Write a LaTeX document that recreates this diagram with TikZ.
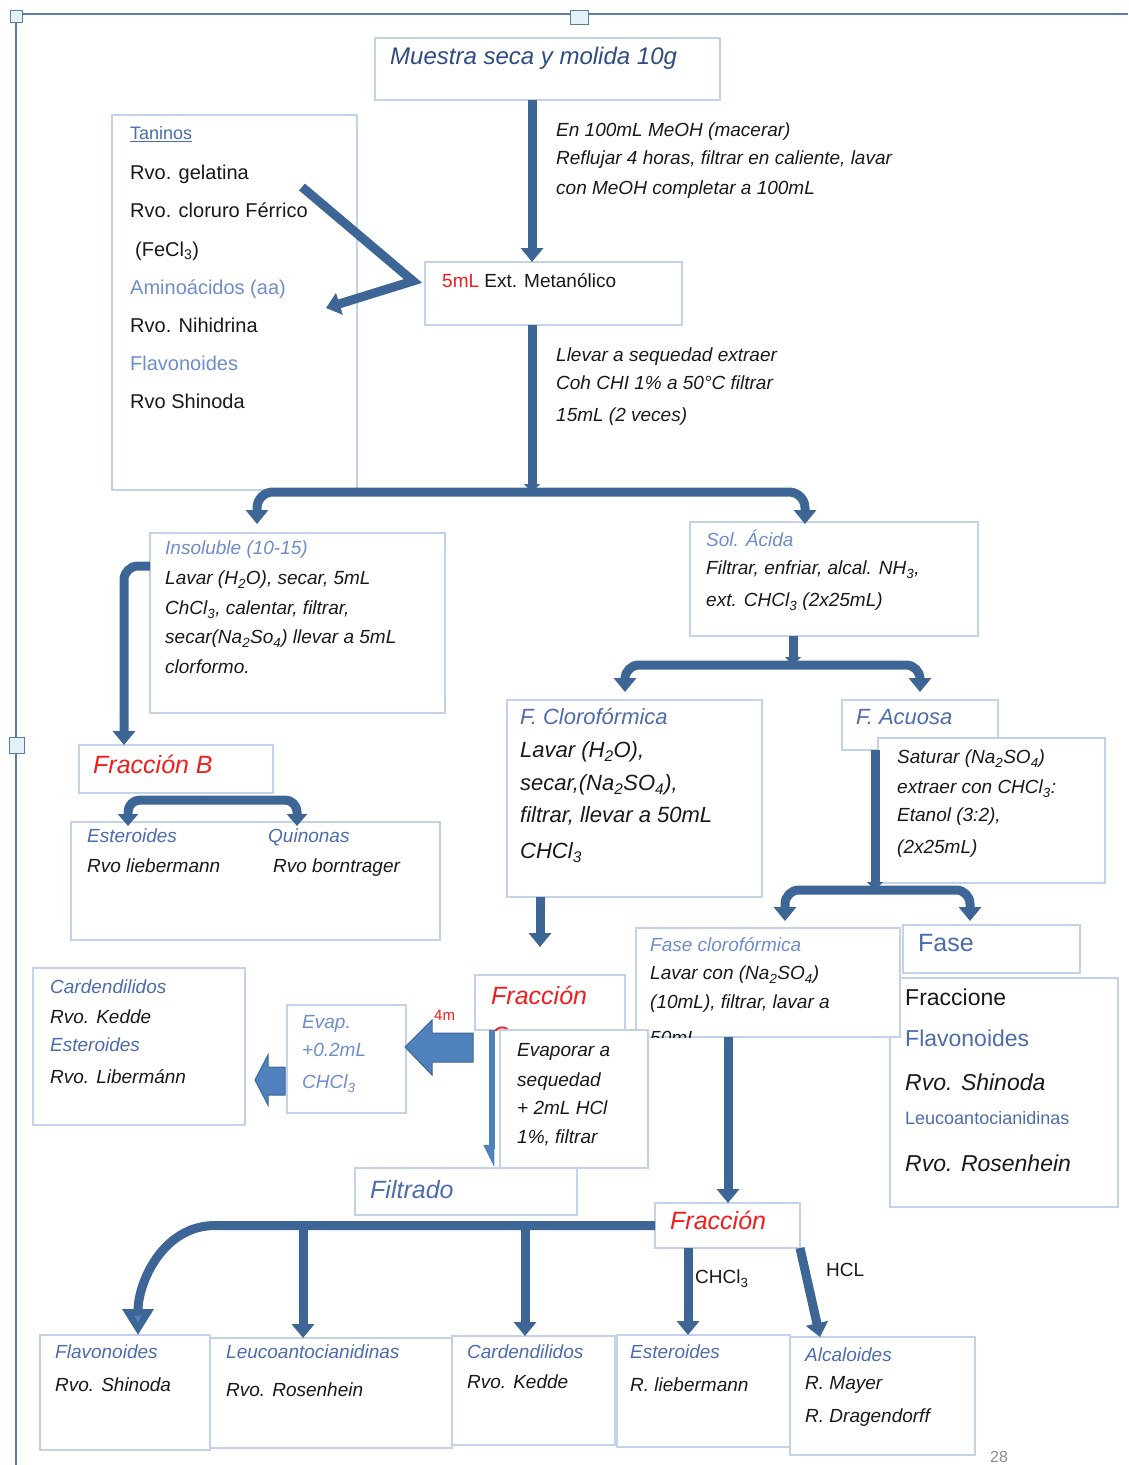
\documentclass[tikz,border=0pt]{standalone}
\usepackage{fontspec}
\setmainfont{Liberation Sans}
\usetikzlibrary{arrows.meta}
\newcommand\fs[1]{\fontsize{#1}{#1}\selectfont}
\newcommand\sub[1]{\textsubscript{#1}}
\definecolor{arrc}{HTML}{3D6596}
\definecolor{blkc}{HTML}{4F81BD}
\definecolor{boxc}{HTML}{C2D2E8}
\definecolor{bluet}{HTML}{4D6CAC}
\definecolor{lbluet}{HTML}{6F8CCB}
\definecolor{titlec}{HTML}{2E4C82}
\definecolor{redt}{HTML}{F01E1E}
\definecolor{framec}{HTML}{5A7CA8}
\definecolor{handf}{HTML}{E2F1F6}
\newcommand\bx[5]{\node[box, minimum width={#4-#2}, minimum height={#5-#3}] (#1) at (#2,#3) {};}
\begin{document}
\begin{tikzpicture}[x=1pt,y=-1pt,
  box/.style={draw=boxc, line width=1.4pt, fill=white, inner sep=0pt, outer sep=0pt, anchor=north west},
  arr/.style={draw=arrc, line width=9pt, -{Triangle[width=22pt,length=14pt]}},
  tu/.style={anchor=west, inner sep=0pt, text height={0.72*#1}, text depth=0pt, font=\fs{#1}, text=black!90},
  ti/.style={anchor=west, inner sep=0pt, text height={0.72*#1}, text depth=0pt, font=\fs{#1}\itshape, text=black!90},
  junc/.style={arr, -{Triangle[width=16pt,length=8pt]}},
]
\useasboundingbox (0,0) rectangle (1128,1465);
% page frame
\draw[framec, line width=2.5pt] (12,14) -- (1128,14);
\draw[framec, line width=1.5pt] (16,14) -- (16,1465);
\draw[framec, fill=handf, line width=.8pt] (570,10) rectangle (588,24);
\draw[framec, fill=handf, line width=.8pt] (9,737) rectangle (24,753);
\draw[framec, fill=handf, line width=.8pt] (10,10) rectangle (22,22);

% coordinates
\coordinate (c532) at (532,0);
\coordinate (c124) at (124,0);
\coordinate (c793) at (793,0);
\coordinate (c875) at (875,0);
\coordinate (c540) at (540,0);
\coordinate (c492) at (492,0);
\coordinate (c728) at (728,0);
\coordinate (c138) at (138,0);
\coordinate (c215) at (215,0);
\coordinate (c303) at (303,0);
\coordinate (c525) at (525,0);
\coordinate (c688) at (688,0);
\coordinate (c820) at (820,0);

% ---- top
\bx{tit}{375}{38}{720}{100}
\node[ti=24, text=titlec] (tt) at (390,56) {Muestra seca y molida 10g};
\node[ti=19] (l1a) at (556,130) {En 100mL MeOH (macerar)};
\node[ti=19] (l1b) at (556,158) {Reflujar 4 horas, filtrar en caliente, lavar};
\node[ti=19] (l1c) at (556,188) {con MeOH completar a 100mL};

\bx{tan}{112}{115}{357}{490}
\node[tu=18, text=bluet] (tn1) at (130,133) {\underline{Taninos}};
\node[tu=20] (tn2) at (130,172) {Rvo. gelatina};
\node[tu=20] (tn3) at (130,210) {Rvo. cloruro Férrico};
\node[tu=20] (tn4) at (135,249) {(FeCl\sub{3})};
\node[tu=20, text=lbluet] (tn5) at (130,287) {Aminoácidos (aa)};
\node[tu=20] (tn6) at (130,325) {Rvo. Nihidrina};
\node[tu=20, text=lbluet] (tn7) at (130,363) {Flavonoides};
\node[tu=20] (tn8) at (130,401) {Rvo Shinoda};

\bx{ext}{425}{262}{682}{325}
\node[tu=19] (et) at (442,281) {\textcolor{redt}{5mL} Ext. Metanólico};
\node[ti=19] (l2a) at (556,355) {Llevar a sequedad extraer};
\node[ti=19] (l2b) at (556,383) {Coh CHI 1\% a 50°C filtrar};
\node[ti=19] (l2c) at (556,415) {15mL (2 veces)};

% ---- left middle
\bx{ins}{150}{533}{445}{713}
\node[ti=19, text=lbluet] (in1) at (165,548) {Insoluble (10-15)};
\node[ti=19] (in2) at (165,578) {Lavar (H\sub{2}O), secar, 5mL};
\node[ti=19] (in3) at (165,608) {ChCl\sub{3}, calentar, filtrar,};
\node[ti=19] (in4) at (165,637) {secar(Na\sub{2}So\sub{4}) llevar a 5mL};
\node[ti=19] (in5) at (165,667) {clorformo.};

\bx{frb}{79}{745}{273}{793}
\node[ti=25, text=redt] (fb) at (93,764) {Fracción B};

\bx{eq}{71}{822}{440}{940}
\node[ti=19, text=bluet] (eq1) at (87,836) {Esteroides};
\node[ti=19] (eq2) at (87,866) {Rvo liebermann};
\node[ti=19, text=bluet] (eq3) at (268,836) {Quinonas};
\node[ti=19] (eq4) at (273,866) {Rvo borntrager};

% ---- right middle
\bx{sol}{690}{522}{978}{636}
\node[ti=19, text=lbluet] (so1) at (706,540) {Sol. Ácida};
\node[ti=19] (so2) at (706,568) {Filtrar, enfriar, alcal. NH\sub{3},};
\node[ti=19] (so3) at (706,600) {ext. CHCl\sub{3} (2x25mL)};

\bx{fcl}{507}{700}{762}{897}
\node[ti=22, text=bluet] (fc1) at (520,717) {F. Clorofórmica};
\node[ti=22] (fc2) at (520,750) {Lavar (H\sub{2}O),};
\node[ti=22] (fc3) at (520,783) {secar,(Na\sub{2}SO\sub{4}),};
\node[ti=22] (fc4) at (520,815) {filtrar, llevar a 50mL};
\node[ti=22] (fc5) at (520,851) {CHCl\sub{3}};

\bx{fac}{842}{700}{998}{750}
\node[ti=22, text=bluet] (fa) at (856,717) {F. Acuosa};
\bx{sat}{878}{738}{1105}{883}
\node[ti=19] (sa1) at (897,757) {Saturar (Na\sub{2}SO\sub{4})};
\node[ti=19] (sa2) at (897,787) {extraer con CHCl\sub{3}:};
\node[ti=19] (sa3) at (897,815) {Etanol (3:2),};
\node[ti=19] (sa4) at (897,847) {(2x25mL)};

\bx{fra}{890}{978}{1118}{1207}
\node[tu=23] (fr1) at (905,997) {Fraccione};
\node[tu=23, text=bluet] (fr2) at (905,1038) {Flavonoides};
\node[ti=23] (fr3) at (905,1082) {Rvo. Shinoda};
\node[tu=18, text=bluet] (fr4) at (905,1118) {Leucoantocianidinas};
\node[ti=23] (fr5) at (905,1163) {Rvo. Rosenhein};

\bx{fas}{903}{925}{1080}{973}
\node[tu=25, text=bluet] (fs) at (918,942) {Fase};

\bx{fcf}{636}{928}{900}{1037}
\node[ti=19, text=lbluet] (ff1) at (650,945) {Fase clorofórmica};
\node[ti=19] (ff2) at (650,973) {Lavar con (Na\sub{2}SO\sub{4})};
\node[ti=19] (ff3) at (650,1002) {(10mL), filtrar, lavar a};
\begin{scope}
\clip (fcf.north west) rectangle (fcf.south east);
\node[ti=19] (ff4) at (650,1038) {50mL};
\end{scope}

% ---- lower middle
\bx{frc}{475}{975}{625}{1030}
\node[ti=25, text=redt] (fcA) at (491,995) {Fracción};
\begin{scope}
\clip (frc.north west) rectangle (frc.south east);
\node[ti=25, text=redt] (fcB) at (491,1035) {C};
\end{scope}
\node[tu=15, text=redt] (fm) at (434,1015) {4m};

\bx{eva}{500}{1030}{648}{1168}
\node[ti=19] (ev1) at (517,1050) {Evaporar a};
\node[ti=19] (ev2) at (517,1080) {sequedad};
\node[ti=19] (ev3) at (517,1108) {+ 2mL HCl};
\node[ti=19] (ev4) at (517,1137) {1\%, filtrar};

\bx{evp}{287}{1005}{406}{1113}
\node[ti=19, text=lbluet] (ep1) at (302,1022) {Evap.};
\node[ti=19, text=lbluet] (ep2) at (302,1050) {+0.2mL};
\node[ti=19, text=lbluet] (ep3) at (302,1082) {CHCl\sub{3}};

\bx{car}{33}{968}{245}{1125}
\node[ti=19, text=bluet] (ca1) at (50,987) {Cardendilidos};
\node[ti=19] (ca2) at (50,1017) {Rvo. Kedde};
\node[ti=19, text=bluet] (ca3) at (50,1045) {Esteroides};
\node[ti=19] (ca4) at (50,1077) {Rvo. Libermánn};

\bx{fil}{355}{1168}{577}{1215}
\node[ti=25, text=bluet] (fi) at (370,1189) {Filtrado};

\bx{frl}{655}{1203}{800}{1248}
\node[ti=25, text=redt] (fl) at (670,1220) {Fracción};

% ---- bottom row
\bx{b1}{40}{1335}{210}{1450}
\node[ti=19, text=bluet] (b1a) at (55,1352) {Flavonoides};
\node[ti=19] (b1b) at (55,1385) {Rvo. Shinoda};
\bx{b2}{210}{1338}{452}{1448}
\node[ti=19, text=bluet] (b2a) at (226,1352) {Leucoantocianidinas};
\node[ti=19] (b2b) at (226,1390) {Rvo. Rosenhein};
\bx{b3}{452}{1336}{615}{1445}
\node[ti=19, text=bluet] (b3a) at (467,1352) {Cardendilidos};
\node[ti=19] (b3b) at (467,1382) {Rvo. Kedde};
\bx{b4}{617}{1335}{790}{1447}
\node[ti=19, text=bluet] (b4a) at (630,1352) {Esteroides};
\node[ti=19] (b4b) at (630,1385) {R. liebermann};
\bx{b5}{790}{1337}{975}{1455}
\node[ti=19, text=bluet] (b5a) at (805,1355) {Alcaloides};
\node[ti=19] (b5b) at (805,1383) {R. Mayer};
\node[ti=19] (b5c) at (805,1416) {R. Dragendorff};

\node[tu=19] (lch) at (695,1277) {CHCl\sub{3}};
\node[tu=19] (lhc) at (826,1270) {HCL};
\node[tu=16, text=black!45] (pg) at (990,1457) {28};

% ---- connectors
\coordinate (v1) at (302,187);
\coordinate (v2) at (413,281);
\coordinate (v3) at (326,308);
\coordinate (j1) at (532,492);
\coordinate (e1) at (257,524);
\coordinate (e2) at (805,524);
\coordinate (s1) at (150,566);
\coordinate (j2) at (205,800);
\coordinate (e3) at (128,826);
\coordinate (e4) at (297,826);
\coordinate (j3) at (793,665);
\coordinate (e5) at (625,692);
\coordinate (e6) at (920,692);
\coordinate (j4) at (875,890);
\coordinate (e7) at (785,921);
\coordinate (e8) at (970,921);
\coordinate (e9) at (540,947);

\draw[arr] (tit.south -| c532) -- (ext.north -| c532);
\draw[arr] (v1) -- (v2) -- (v3);
\draw[junc] (ext.south -| c532) -- (j1);
\draw[arr, rounded corners=16pt] (j1) -| (e1);
\draw[arr, rounded corners=16pt] (j1) -| (e2);
\draw[arr, rounded corners=14pt] (s1) -| (frb.north -| c124);
\draw[arr, rounded corners=12pt, -{Triangle[width=20pt,length=12pt]}] (j2) -| (e3);
\draw[arr, rounded corners=12pt, -{Triangle[width=20pt,length=12pt]}] (j2) -| (e4);
\draw[junc] (sol.south -| c793) -- (j3);
\draw[arr, rounded corners=14pt] (j3) -| (e5);
\draw[arr, rounded corners=14pt] (j3) -| (e6);
\draw[junc] (fac.south -| c875) -- (j4);
\draw[arr, rounded corners=14pt] (j4) -| (e7);
\draw[arr, rounded corners=14pt] (j4) -| (e8);
\draw[arr] (fcl.south -| c540) -- (e9);
\draw[blkc, line width=6pt, -{Triangle[width=16pt,length=18pt,right]}] (frc.south -| c492) -- (fil.north -| c492);
\draw[arr] (fcf.south -| c728) -- (frl.north -| c728);
\draw[arr, -{Triangle[width=30pt,length=26pt,fill=blkc]}] (frl.west) -- (frl.west -| c215) to[out=180,in=90] (b1.north -| c138);
\draw[arr] (frl.west -| c303) -- (b2.north -| c303);
\draw[arr] (frl.west -| c525) -- (b3.north -| c525);
\draw[arr] (frl.south -| c688) -- (b4.north -| c688);
\draw[arr] (frl.south east) -- (b5.north -| c820);

% block arrows
\draw[arrc, fill=blkc, line width=1pt] (405,1047) -- (432,1020) -- (432,1033) -- (473,1033) -- (473,1062) -- (432,1062) -- (432,1075) -- cycle;
\draw[arrc, fill=blkc, line width=1pt] (255,1080) -- (268,1055) -- (268,1067) -- (285,1067) -- (285,1095) -- (268,1095) -- (268,1105) -- cycle;
\end{tikzpicture}
\end{document}
